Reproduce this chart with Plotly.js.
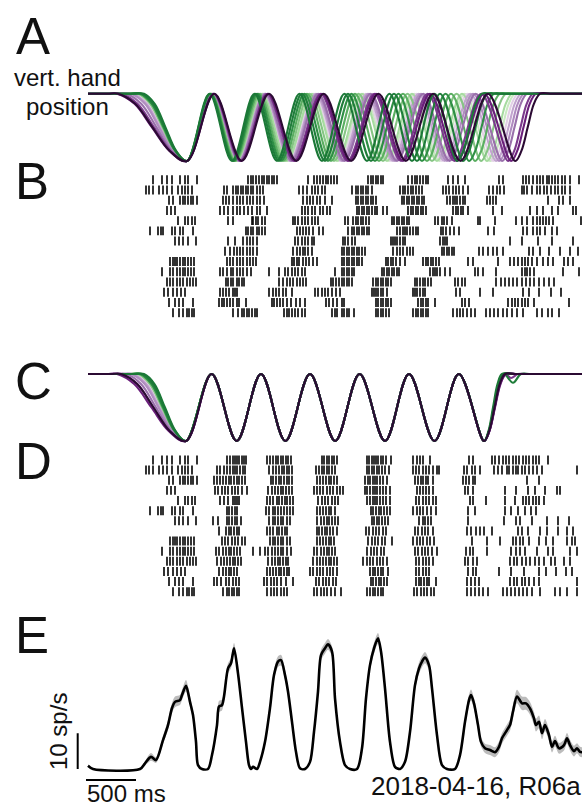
<!DOCTYPE html>
<html>
<head>
<meta charset="utf-8">
<script src="https://cdn.plot.ly/plotly-3.0.1.min.js"></script>
<style>html,body{margin:0;padding:0;background:#fff;}#chart{width:587px;height:809px;}</style>
</head>
<body>
<div id="chart"></div>
<script>
// ---------- DATA (times in ms from trace start) ----------
const timeEnd = 4940;
const scaleBarMs = 500;
const scaleBarRate = 10;

// trial colours (fast -> slow)
const trialColors = ['#1b7837','#1f7d3a','#2f8f45','#5aae61','#86c584','#a6dba0','#c9e8c2',
                     '#e2d0e6','#c2a5cf','#b08cc0','#9970ab','#7b3a8c','#6a1f7a','#2b0a33'];
const drawOrder = [6,7,5,8,4,9,3,10,2,11,1,12,0,13];

// A: key points of vertical hand position (time, ms) per trial
const posA_t = [
 [0,460,560,667,775,882,990,1215,1440,1665,1890,2115,2340,2565,2790,3015,3240,3465,3690,3752,3815,3877,3940,4040,4940],
 [0,440,540,652,765,877,990,1220,1450,1680,1910,2140,2370,2600,2830,3060,3290,3520,3750,3812,3875,3937,4000,4100,4940],
 [0,420,520,637,755,872,990,1225,1460,1695,1930,2165,2400,2635,2870,3105,3340,3575,3810,3872,3935,3997,4060,4160,4940],
 [0,430,530,645,760,875,990,1230,1470,1710,1950,2190,2430,2670,2910,3150,3390,3630,3870,3932,3995,4057,4120,4220,4940],
 [0,400,500,622,745,867,990,1235,1480,1725,1970,2215,2460,2705,2950,3195,3440,3685,3930,3992,4055,4117,4180,4280,4940],
 [0,410,510,630,750,870,990,1240,1490,1740,1990,2240,2490,2740,2990,3240,3490,3740,3990,4052,4115,4177,4240,4340,4940],
 [0,380,480,607,735,862,990,1242,1495,1747,2000,2252,2505,2757,3010,3262,3515,3767,4020,4082,4145,4207,4270,4370,4940],
 [0,370,470,600,730,860,990,1245,1500,1755,2010,2265,2520,2775,3030,3285,3540,3795,4050,4112,4175,4237,4300,4400,4940],
 [0,350,450,585,720,855,990,1247,1505,1762,2020,2277,2535,2792,3050,3307,3565,3822,4080,4142,4205,4267,4330,4430,4940],
 [0,330,430,570,710,850,990,1250,1510,1770,2030,2290,2550,2810,3070,3330,3590,3850,4110,4172,4235,4297,4360,4460,4940],
 [0,280,380,532,685,837,990,1252,1515,1777,2040,2302,2565,2827,3090,3352,3615,3877,4140,4202,4265,4327,4390,4490,4940],
 [0,230,330,495,660,825,990,1257,1525,1792,2060,2327,2595,2862,3130,3397,3665,3932,4200,4262,4325,4387,4450,4550,4940],
 [0,190,290,465,640,815,990,1260,1530,1800,2070,2340,2610,2880,3150,3420,3690,3960,4230,4292,4355,4417,4480,4580,4940],
 [0,200,300,472,645,817,990,1263,1537,1810,2084,2357,2631,2904,3178,3451,3725,3998,4272,4334,4397,4459,4522,4622,4940]
];
// normalized vertical position at those key points (0 = up, -1 = down)
const levelsA = [0,0,0,-0.15,-0.5,-0.85,-1,0,-1,0,-1,0,-1,0,-1,0,-1,0,-1,-0.85,-0.5,-0.15,0,0,0];

// C: time-warped position; shared oscillation extrema + per-trial onset / offset
const cExtrema_t = [980,1236,1487,1730,1974,2220,2472,2716,2970,3210,3465,3708,3960];
const cExtrema_lv = [-1,0,-1,0,-1,0,-1,0,-1,0,-1,0,-1];
const cDescent_t = [
 [460,560,665,770,875],[440,540,650,760,870],[420,520,635,750,865],[430,530,642,755,867],
 [400,500,620,740,860],[410,510,627,745,862],[380,480,605,730,855],[370,470,597,725,852],
 [350,450,582,715,847],[330,430,567,705,842],[280,380,530,680,830],[230,330,492,655,817],
 [190,290,462,635,807],[230,330,492,655,817]
];
const cDescent_lv = [0,0,-0.15,-0.5,-0.85];
const cReturn_t = [
 [4005,4050,4095,4140,4240],[4010,4060,4110,4160,4250,4330,4430],[4009,4057,4106,4155,4255],
 [4011,4062,4114,4165,4265],[4010,4060,4110,4160,4260],[4012,4065,4117,4170,4270],
 [4009,4057,4106,4155,4255],[4011,4062,4114,4165,4265],[4012,4065,4117,4170,4270],
 [4014,4067,4121,4175,4275],[4012,4065,4117,4170,4270],[4014,4067,4121,4175,4230,4300,4400],
 [4015,4070,4125,4180,4280],[4012,4065,4117,4170,4270]
];
const cReturn_lv = [
 [-0.85,-0.5,-0.15,0,0],[-0.85,-0.5,-0.15,0,-0.13,0,0],[-0.85,-0.5,-0.15,0,0],
 [-0.85,-0.5,-0.15,0,0],[-0.85,-0.5,-0.15,0,0],[-0.85,-0.5,-0.15,0,0],
 [-0.85,-0.5,-0.15,0,0],[-0.85,-0.5,-0.15,0,0],[-0.85,-0.5,-0.15,0,0],
 [-0.85,-0.5,-0.15,0,0],[-0.85,-0.5,-0.15,0,0],[-0.85,-0.5,-0.15,0,-0.06,0,0],
 [-0.85,-0.5,-0.15,0,0],[-0.85,-0.5,-0.15,0,0]
];

// B: spike times (ms), one row per trial
const spikesB = [
 [650,740,790,840,920,970,1000,1090,1600,1630,1650,1680,1710,1740,1760,1790,1810,1840,1860,1890,2200,2260,2290,2320,2350,2380,2400,2430,2460,2490,2800,2830,2850,2880,2900,2930,2950,3200,3240,3270,3290,3320,3350,3380,3400,3600,3650,3700,3770,4110,4150,4350,4380,4410,4450,4490,4520,4550,4590,4610,4640,4670,4700,4740,4770,4820,4910],
 [580,610,650,710,750,790,840,900,940,970,1000,1040,1360,1390,1450,1480,1500,1530,1550,1580,1600,1630,1650,1690,1720,1750,2110,2150,2190,2240,2270,2300,2340,2370,2640,2680,2700,2730,2750,2780,2800,2840,3120,3150,3170,3200,3230,3250,3280,3310,3340,3550,3580,3610,3650,3680,3710,3750,3800,4010,4050,4090,4120,4160,4340,4360,4390,4440,4490,4520,4560,4590,4630,4670,4700,4740,4770,4820],
 [810,850,920,950,970,1000,1030,1050,1090,1350,1380,1410,1450,1490,1520,1550,1590,1620,1650,1690,1720,1760,2150,2190,2220,2250,2290,2320,2370,2440,2680,2700,2730,2750,2780,2800,2830,2850,2880,3140,3160,3190,3210,3240,3260,3290,3310,3340,3360,3590,3620,3650,3670,3690,3720,3750,3770,3990,4020,4050,4080,4600,4710,4750,4820],
 [790,830,870,1320,1360,1400,1450,1490,1520,1560,1600,1640,1690,1720,1790,2140,2170,2200,2240,2270,2320,2350,2390,2420,2690,2710,2740,2760,2790,2810,2840,2870,2890,2950,2990,3200,3230,3250,3280,3300,3330,3350,3380,3650,3680,3700,3730,3750,3800,4050,4140,4420,4490,4550,4640,4700,4850,4880],
 [900,970,1000,1040,1070,1400,1450,1640,1650,1680,1700,1740,1770,2050,2070,2100,2140,2170,2200,2240,2270,2300,2570,2600,2650,2680,2700,2730,2750,2780,2810,3040,3060,3090,3110,3140,3160,3190,3210,3470,3500,3540,3560,3590,3640,3900,3920,4070,4280,4340,4390,4450,4490,4520,4550,4580,4610,4650,4930],
 [620,700,730,750,840,870,920,950,1050,1580,1600,1630,1650,1690,1710,1740,1770,2090,2120,2150,2180,2210,2250,2310,2350,2600,2640,2660,2690,2710,2740,2760,2790,2810,3090,3120,3150,3170,3190,3220,3250,3280,3300,3530,3550,3580,3620,3660,3710,4000,4060,4350,4390,4450,4490,4520,4570,4640,4690],
 [870,910,950,1000,1080,1400,1470,1550,1590,1620,1650,1690,2070,2100,2140,2170,2200,2240,2260,2550,2570,2600,2640,2670,3030,3050,3070,3090,3120,3150,3170,3520,3550,3570,3590,4220,4340,4500,4640,4850],
 [1370,1420,1460,1490,1520,1550,1590,1620,1650,1690,2050,2090,2120,2150,2170,2200,2240,2540,2560,2590,2610,2640,2660,2690,2710,2740,2770,3050,3090,3120,3150,3190,3220,3250,3540,3560,3590,3610,3640,3660,3910,3950,4000,4050,4090,4150,4410,4450,4520,4610,4720,4820,4900],
 [820,850,870,890,920,950,970,1000,1030,1060,1390,1420,1450,1490,1520,1550,1590,1620,1650,1680,2040,2060,2090,2110,2150,2180,2210,2250,2290,2540,2560,2590,2610,2640,2660,2690,2710,2740,2980,3000,3030,3050,3080,3120,3170,3350,3380,3400,3430,3450,3480,3510,3800,3850,4100,4220,4260,4300,4340,4370,4400,4440,4490,4550,4600,4650,4760,4800,4850],
 [740,820,850,890,920,950,970,1000,1030,1060,1320,1350,1390,1430,1450,1490,1520,1550,1590,1630,1810,1910,1970,2000,2040,2070,2100,2140,2170,2470,2540,2560,2590,2610,2640,2660,2940,2960,2990,3010,3040,3060,3090,3110,3420,3450,3470,3490,3520,3570,3620,3870,3900,3950,4080,4340,4370,4390,4420,4460,4750,4910],
 [790,820,850,890,920,950,990,1020,1050,1080,1380,1400,1430,1450,1490,1510,1540,1560,1910,1950,1990,2020,2050,2090,2120,2150,2180,2430,2450,2480,2510,2540,2560,2590,2610,2640,2850,2880,2900,2930,2950,2980,3000,3030,3270,3290,3320,3350,3370,3400,3430,3670,3700,3740,3770,4080,4130,4170,4210,4250,4290,4340,4380,4420,4460,4510,4560,4610,4660],
 [760,800,850,890,930,970,1320,1350,1380,1410,1450,1470,1490,1810,1850,1880,1910,1950,1980,2040,2270,2300,2340,2370,2400,2440,2480,2520,2840,2860,2880,2900,2930,2950,2990,3250,3270,3290,3320,3350,3370,3680,3720,3920,4050,4350,4410,4510,4630,4730],
 [810,870,910,950,1050,1310,1340,1360,1390,1420,1450,1490,1510,1580,1840,1860,1890,1920,1950,1990,2030,2080,2120,2170,2380,2410,2450,2490,2540,2560,2880,2900,2930,2950,2980,3000,3030,3300,3330,3350,3380,3400,3470,3740,3770,3810,4200,4240,4270,4300,4340,4370,4400,4460,4810],
 [850,910,950,990,1010,1040,1060,1450,1500,1540,1560,1590,1610,1640,1670,1690,1960,1990,2010,2040,2070,2100,2140,2170,2440,2470,2490,2540,2560,2590,2610,2660,2880,2900,2930,2950,2980,3010,3250,3280,3300,3330,3350,3380,3400,3650,3690,3720,3750,3790,3830,3870,3980,4020,4060,4100,4150,4190,4240,4290,4350,4490,4540,4600,4640,4710]
];

// D: time-warped spike times (ms)
const spikesD = [
 [650,740,790,840,920,970,1000,1090,1390,1420,1450,1470,1490,1510,1540,1560,1580,1790,1820,1850,1880,1900,1930,1950,1980,2000,2030,2340,2360,2390,2410,2440,2460,2490,2790,2810,2840,2860,2880,2900,2930,2950,2980,3030,3250,3290,3320,3350,3420,3810,3850,4040,4070,4110,4150,4180,4210,4250,4280,4310,4350,4380,4410,4450,4480,4510,4600],
 [580,610,650,710,750,790,840,900,940,970,1000,1040,1290,1320,1360,1390,1420,1450,1470,1490,1520,1550,1570,1810,1850,1880,1910,1940,1960,1990,2010,2040,2280,2310,2340,2360,2390,2410,2440,2470,2790,2810,2840,2860,2890,2910,2940,2970,3010,3250,3280,3310,3350,3380,3410,3450,3490,3510,3760,3790,3840,3870,3920,4060,4100,4140,4190,4210,4250,4280,4300,4340,4370,4410,4450,4490,4540,4890],
 [810,850,920,950,970,1000,1030,1050,1090,1260,1290,1320,1350,1380,1410,1430,1460,1490,1510,1540,1570,1830,1850,1880,1910,1930,1960,1990,2010,2040,2290,2320,2350,2380,2410,2430,2460,2490,2770,2800,2820,2850,2870,2890,2920,2950,2990,3270,3300,3330,3350,3380,3400,3450,3750,3780,3810,3850,3870,4390,4510],
 [790,830,870,1270,1300,1340,1370,1400,1440,1470,1500,1540,1590,1800,1840,1870,1900,1930,1950,1980,2010,2040,2260,2290,2320,2350,2390,2420,2450,2490,2520,2550,2770,2790,2820,2850,2870,2890,2920,2950,2980,3020,3290,3320,3350,3380,3410,3450,3770,3800,3850,4170,4280,4400,4470,4570,4690,4720],
 [900,970,1000,1040,1070,1320,1360,1400,1450,1470,1490,1510,1790,1820,1850,1890,1910,1940,1970,1990,2020,2050,2300,2340,2370,2400,2440,2470,2500,2790,2820,2850,2870,2890,2920,2950,2980,3020,3280,3310,3350,3380,3410,3450,3480,3820,3850,3980,4170,4270,4350,4380,4410,4450,4480,4510,4560],
 [620,700,730,750,840,870,920,950,1050,1390,1410,1440,1470,1490,1780,1810,1850,1870,1900,1930,1960,1990,2020,2050,2290,2320,2350,2380,2410,2430,2470,2830,2850,2880,2910,2930,2960,2990,3020,3250,3290,3320,3350,3390,3430,3480,3800,3870,4170,4230,4300,4370,4430,4480],
 [870,910,950,1000,1080,1250,1300,1390,1410,1440,1470,1490,1530,1810,1850,1870,1900,1930,1950,1990,2020,2290,2330,2360,2390,2410,2440,2470,2500,2840,2860,2890,2910,2940,2970,3000,3310,3350,3370,3400,3430,3800,4160,4280,4320,4440,4590,4700,4810],
 [1310,1380,1410,1430,1460,1490,1510,1790,1820,1850,1890,1910,1940,1970,1990,2290,2310,2340,2370,2390,2420,2450,2490,2780,2810,2850,2880,2910,2950,2980,3270,3300,3340,3370,3400,3450,3790,3830,3880,3920,3960,4040,4300,4340,4400,4520,4590,4700,4790,4850],
 [820,850,870,890,920,950,970,1000,1030,1060,1340,1370,1400,1440,1470,1500,1540,1570,1820,1850,1870,1900,1930,1950,1990,2020,2290,2320,2350,2380,2410,2430,2460,2800,2840,2870,2900,2940,2970,3040,3250,3290,3320,3350,3390,3420,3460,3840,3990,4120,4250,4280,4320,4350,4410,4510,4580,4650,4790,4840,4870],
 [740,820,850,890,920,950,970,1000,1030,1060,1280,1310,1350,1380,1410,1430,1460,1490,1520,1650,1720,1770,1800,1840,1870,1900,1930,1950,1990,2030,2260,2290,2330,2360,2390,2410,2440,2470,2790,2830,2860,2890,2930,2960,3270,3300,3340,3370,3400,3440,3490,3780,3820,3850,3990,4230,4280,4320,4370,4490,4600,4650,4820,4890],
 [790,820,850,890,920,950,990,1020,1050,1080,1290,1330,1360,1390,1420,1450,1470,1500,1530,1800,1840,1870,1900,1920,1950,1980,2000,2250,2290,2320,2350,2380,2410,2430,2460,2490,2750,2790,2820,2850,2890,2920,2950,2990,3280,3310,3350,3380,3410,3450,3770,3800,3850,3890,4220,4260,4290,4340,4380,4420,4470,4510,4560,4630,4670,4760,4820],
 [760,800,850,890,930,970,1310,1350,1380,1410,1430,1460,1490,1790,1820,1850,1880,1910,1930,1960,1990,2010,2220,2250,2290,2320,2350,2390,2420,2450,2490,2820,2850,2870,2900,2930,2950,3000,3280,3310,3350,3380,3410,3800,3850,3880,4110,4230,4360,4510,4580,4680,4780,4840],
 [810,870,910,950,1050,1260,1290,1330,1380,1410,1450,1480,1510,1760,1790,1830,1860,1890,1930,1980,2050,2280,2310,2350,2380,2410,2450,2480,2830,2850,2880,2910,2930,2960,2990,3280,3310,3330,3360,3390,3410,3480,3790,3830,3870,3910,4220,4260,4290,4340,4370,4410,4460,4510,4890],
 [850,910,950,990,1010,1040,1060,1350,1390,1410,1440,1460,1490,1510,1790,1830,1860,1890,1930,1960,1990,2260,2290,2330,2360,2390,2430,2470,2530,2790,2820,2850,2870,2900,2930,2950,3260,3290,3330,3360,3390,3430,3460,3790,3830,3870,3910,3950,4000,4150,4190,4230,4270,4310,4350,4390,4440,4520,4670,4720,4790,4890]
];

// E: mean firing rate (sp/s) and its SEM
const rateT = [0,50,520,570,630,680,750,800,840,870,920,940,980,1020,1050,1080,1100,1140,1200,1240,
 1290,1310,1340,1360,1400,1430,1460,1500,1540,1580,1610,1630,1650,1690,1720,1770,1820,1860,1900,1930,
 1970,2000,2040,2080,2120,2170,2220,2260,2300,2330,2370,2400,2440,2470,2520,2570,2620,2690,2740,2780,
 2820,2860,2900,2930,2970,3020,3070,3120,3170,3220,3270,3310,3340,3370,3410,3440,3490,3540,3590,3670,
 3720,3770,3810,3830,3860,3900,3930,3970,4020,4070,4110,4140,4190,4220,4250,4290,4340,4380,4420,4460,
 4480,4510,4540,4570,4610,4640,4670,4710,4760,4790,4820,4860,4890,4920,4940];
const rate = [0.9,0,0,1.6,3.4,2.5,8.1,12.3,17.1,18.8,19.3,20.7,23.3,18.8,15.1,7.6,1.1,0,0,3.9,
 12.3,17.5,17.9,20.3,28.2,29.6,33.8,26.8,17.1,7.6,1.1,0,0.6,0,2.0,7.6,17.1,26.3,30.1,30.5,
 26.3,21.7,13.2,4.8,0.2,0,2.0,10.4,21.7,31.9,33.8,34.9,32.9,19.8,7.6,1.1,0,0,5.8,19.8,
 29.1,33.8,36.6,32.9,22.6,7.6,0.6,0,2.0,10.4,23.5,28.2,30.1,31.2,29.1,22.6,9.5,1.1,0,0,
 3.9,13.2,19.3,20.7,18.4,12.3,7.6,5.8,5.3,4.7,6.2,8.6,10.9,12.3,16.1,20.3,18.4,18.4,17.0,14.2,
 12.3,13.2,10.0,12.3,9.5,6.2,7.8,5.8,6.7,8.6,6.7,5.0,5.8,4.8,4.7];
const rateSem = [0.4,0.15,0.15,0.6,1.1,0.8,1.1,1.4,1.4,1.5,1.4,1.4,1.6,1.4,1.3,1.0,0.4,0.15,0.15,0.7,
 1.3,1.6,1.5,1.4,1.4,1.4,1.5,1.4,1.3,1.0,0.4,0.15,0.4,0.15,0.6,1.1,1.4,1.5,1.5,1.5,
 1.4,1.3,1.1,0.7,0.15,0.15,0.4,1.1,1.4,1.5,1.5,1.5,1.4,1.3,1.0,0.3,0.15,0.15,0.8,1.4,
 1.5,1.5,1.5,1.4,1.3,0.8,0.3,0.15,0.4,1.1,1.5,1.6,1.6,1.6,1.5,1.4,1.0,0.3,0.15,0.15,
 0.7,1.4,1.6,1.6,1.5,1.4,1.3,1.3,1.4,1.4,1.5,1.5,1.6,1.6,1.8,1.9,1.9,1.8,1.8,1.8,
 1.8,1.8,1.7,1.7,1.6,1.6,1.5,1.5,1.5,1.5,1.5,1.5,1.4,1.4,1.4];

// ---------- BUILD ----------
const FONT = 'Liberation Sans, Arial, Helvetica, sans-serif';
const traces = [];

drawOrder.forEach(i => {
  traces.push({x: posA_t[i], y: levelsA, xaxis:'x', yaxis:'y', mode:'lines',
    line:{color: trialColors[i], width:2.1, shape:'spline', smoothing:1}, hoverinfo:'skip', showlegend:false});
});

drawOrder.forEach(i => {
  const x = [0].concat(cDescent_t[i], cExtrema_t, cReturn_t[i], [timeEnd]);
  const y = [0].concat(cDescent_lv, cExtrema_lv, cReturn_lv[i], [0]);
  traces.push({x, y, xaxis:'x', yaxis:'y3', mode:'lines',
    line:{color: trialColors[i], width:2.1, shape:'spline', smoothing:1}, hoverinfo:'skip', showlegend:false});
});

function rasterTrace(spikes, yaxis) {
  const x = [], y = [];
  spikes.forEach((row, k) => row.forEach(t => { x.push(t); y.push(k + 1); }));
  return {x, y, xaxis:'x', yaxis, mode:'markers', hoverinfo:'skip', showlegend:false,
    marker:{symbol:'line-ns', size:6.4, color:'#000', line:{color:'#000', width:1.6}}};
}
traces.push(rasterTrace(spikesB, 'y2'));
traces.push(rasterTrace(spikesD, 'y4'));

const lower = rate.map((r, i) => r - rateSem[i]);
const upper = rate.map((r, i) => r + rateSem[i]);
traces.push({x: rateT, y: lower, xaxis:'x', yaxis:'y5', mode:'lines',
  line:{width:0, shape:'spline', smoothing:0.8, color:'rgba(0,0,0,0)'}, hoverinfo:'skip', showlegend:false});
traces.push({x: rateT, y: upper, xaxis:'x', yaxis:'y5', mode:'lines', fill:'tonexty',
  fillcolor:'rgba(165,165,165,0.75)', line:{width:0, shape:'spline', smoothing:0.8, color:'rgba(0,0,0,0)'},
  hoverinfo:'skip', showlegend:false});
traces.push({x: rateT, y: rate, xaxis:'x', yaxis:'y5', mode:'lines',
  line:{color:'#000', width:2.6, shape:'spline', smoothing:0.8}, hoverinfo:'skip', showlegend:false});

const W = 587, H = 809;
const px = v => v / W, py = v => 1 - v / H;
const hidden = {visible:false, showgrid:false, zeroline:false, fixedrange:true};

function letter(t, xPix, yPix) {
  return {text:t, xref:'paper', yref:'paper', x:px(xPix), y:py(yPix), xanchor:'left', yanchor:'middle',
    showarrow:false, font:{family:FONT, size:51, color:'#111'}};
}
function label(t, xPix, yPix, size, xanchor, angle) {
  return {text:t, xref:'paper', yref:'paper', x:px(xPix), y:py(yPix), xanchor:xanchor, yanchor:'middle',
    textangle: angle || 0, showarrow:false, font:{family:FONT, size:size, color:'#111'}};
}

const layout = {
  width: W, height: H, margin:{l:0, r:0, t:0, b:0}, paper_bgcolor:'#fff', plot_bgcolor:'rgba(0,0,0,0)',
  showlegend:false,
  xaxis: Object.assign({range:[-120, timeEnd], domain:[76/W, 582/W]}, hidden),
  yaxis: Object.assign({range:[-1.1, 0.1], domain:[0.79267, 0.89250], anchor:'x'}, hidden),
  yaxis2: Object.assign({range:[14.5, 0.5], domain:[0.60717, 0.78418], anchor:'x'}, hidden),
  yaxis3: Object.assign({range:[-1.1, 0.1], domain:[0.44660, 0.54598], anchor:'x'}, hidden),
  yaxis4: Object.assign({range:[14.5, 0.5], domain:[0.26230, 0.43770], anchor:'x'}, hidden),
  yaxis5: Object.assign({range:[-4, 40], domain:[0.03179, 0.22596], anchor:'x'}, hidden),
  shapes: [
    {type:'line', xref:'x', yref:'y5', x0:-103, x1:-103, y0:0, y1:scaleBarRate, line:{color:'#000', width:2}},
    {type:'line', xref:'x', yref:'y5', x0:-20, x1:-20 + scaleBarMs, y0:-3.1, y1:-3.1, line:{color:'#000', width:2}}
  ],
  annotations: [
    letter('A', 14, 36.5),
    letter('B', 13, 182),
    letter('C', 13, 381.5),
    letter('D', 13, 461.5),
    letter('E', 13, 635),
    label('vert. hand', 67, 77.7, 24, 'center'),
    label('position', 67, 106.7, 24, 'center'),
    label('10 sp/s', 58, 731, 24, 'center', -90),
    label('500 ms', 85, 793.5, 24, 'left'),
    label('2018-04-16, R06a', 583, 786.3, 26, 'right')
  ]
};

Plotly.newPlot('chart', traces, layout, {staticPlot:true, displayModeBar:false});
</script>
</body>
</html>
